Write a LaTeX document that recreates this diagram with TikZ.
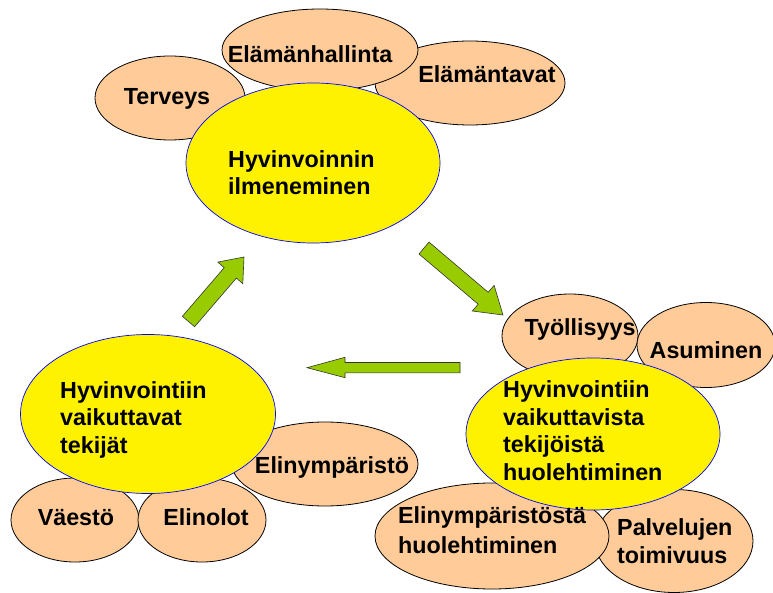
\documentclass[tikz,border=0pt]{standalone}
\usepackage{fontspec}
\setmainfont{Liberation Sans}
\usetikzlibrary{shapes.geometric}
\definecolor{peach}{HTML}{FFCC99}
\definecolor{arrowgreen}{HTML}{99CC00}
\tikzset{
  pe/.style={ellipse, draw=black, line width=0.8pt, fill=peach, inner sep=0pt},
  ye/.style={ellipse, draw=blue, line width=0.7pt, fill=yellow, inner sep=0pt},
  lbl/.style={font=\fontsize{23.3}{27.5}\selectfont\bfseries, inner sep=0pt, anchor=base, align=center},
  lbll/.style={font=\fontsize{23.3}{27.5}\selectfont\bfseries, inner sep=0pt, anchor=base west, align=left},
  garrow/.style={fill=arrowgreen, draw=black!80, line width=0.6pt, line join=miter}
}
\begin{document}
\begin{tikzpicture}[x=1pt, y=-1pt]
\useasboundingbox (0,0) rectangle (773,593);
% top group
\node[pe, minimum width=150pt, minimum height=84pt] (terv) at (170,98) {};
\node[pe, minimum width=190pt, minimum height=84pt] (tavat) at (470,83) {};
\node[pe, minimum width=196pt, minimum height=82pt] (hall) at (320,50) {};
\node[ye, minimum width=254pt, minimum height=160pt] (ilm) at (313,163) {};
% bottom left group
\node[pe, minimum width=186pt, minimum height=84pt] (ymp) at (325,464) {};
\node[pe, minimum width=128pt, minimum height=84pt] (vae) at (75,520) {};
\node[pe, minimum width=128pt, minimum height=84pt] (elo) at (202,520) {};
\node[ye, minimum width=255pt, minimum height=159pt] (vaik) at (148,414) {};
% bottom right group
\node[pe, minimum width=136pt, minimum height=84pt] (tyo) at (570,336) {};
\node[pe, minimum width=138pt, minimum height=85pt] (asu) at (706,345) {};
\node[pe, minimum width=158pt, minimum height=103pt] (palv) at (674,541) {};
\node[pe, minimum width=234pt, minimum height=106pt] (ympH) at (492,536) {};
\node[ye, minimum width=254pt, minimum height=152pt] (huol) at (593,434) {};
% labels (multi-line: anchor at baseline of last line)
\node[lbl] (tTerv) at (167,105) {Terveys};
\node[lbl] (tHall) at (310,63) {Elämänhallinta};
\node[lbl] (tTavat) at (487,83) {Elämäntavat};
\node[lbll] (tIlm) at (228,195) {Hyvinvoinnin\\ilmeneminen};
\node[lbll] (tVaik) at (60,453) {Hyvinvointiin\\vaikuttavat\\tekijät};
\node[lbl] (tYmp) at (332,473) {Elinympäristö};
\node[lbl] (tVae) at (76,525) {Väestö};
\node[lbl] (tElo) at (206,525) {Elinolot};
\node[lbl] (tTyo) at (580,335) {Työllisyys};
\node[lbl] (tAsu) at (706,358) {Asuminen};
\node[lbll] (tHuol) at (503,480) {Hyvinvointiin\\vaikuttavista\\tekijöistä\\huolehtiminen};
\node[lbll, font=\fontsize{23.3}{29.5}\selectfont\bfseries] (tYmpH) at (398,553) {Elinympäristöstä\\huolehtiminen};
\node[lbll] (tPalv) at (617,563) {Palvelujen\\toimivuus};
% arrows
\draw[garrow] (182.4,316.3) -- (224.2,267.7) -- (217.8,262.1) -- (244,257) -- (242.8,283.7) -- (236.4,278.1) -- (194.6,326.7) -- cycle;
\draw[garrow] (429.0,242.1) -- (488.2,292.3) -- (494.1,285.4) -- (503,315) -- (472.3,311.0) -- (478.2,304.2) -- (419.0,254.0) -- cycle;
\draw[garrow] (460,362.5) -- (345,362.5) -- (345,357.3) -- (307,367.7) -- (345,377.7) -- (345,372.8) -- (460,372.8) -- cycle;
\end{tikzpicture}
\end{document}
